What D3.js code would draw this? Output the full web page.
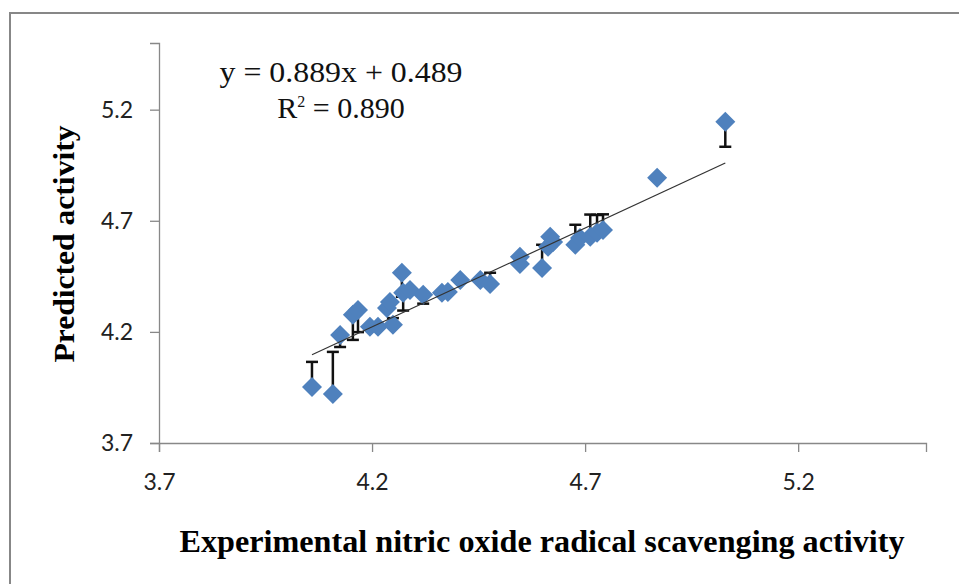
<!DOCTYPE html>
<html>
<head>
<meta charset="utf-8">
<script src="https://cdn.jsdelivr.net/npm/d3@7"></script>
<style>
  body { margin: 0; background: #fff; }
  svg { display: block; }
</style>
</head>
<body>
<svg id="chart"></svg>
<script>
// experimental vs predicted activity
const expValues = [4.059, 4.108, 4.125, 4.155, 4.167, 4.195, 4.214, 4.235, 4.242, 4.249,
  4.270, 4.273, 4.289, 4.320, 4.364, 4.378, 4.407, 4.454, 4.477, 4.547,
  4.547, 4.599, 4.613, 4.618, 4.625, 4.677, 4.688, 4.712, 4.728, 4.742,
  4.869, 5.029];
const predValues = [3.952, 3.921, 4.186, 4.277, 4.299, 4.223, 4.223, 4.308, 4.335, 4.232,
  4.466, 4.376, 4.389, 4.367, 4.376, 4.380, 4.434, 4.434, 4.416, 4.538,
  4.506, 4.488, 4.583, 4.628, 4.605, 4.592, 4.623, 4.628, 4.646, 4.659,
  4.894, 5.146];
// signed error bar lengths (+ up, - down)
const errValues = [0.113, 0.189, -0.054, -0.113, -0.1, 0, 0, 0, 0, 0.03,
  -0.108, -0.08, 0, -0.04, 0, 0, 0, 0, 0.05, 0,
  0, 0.104, 0, 0, 0, 0.09, 0, 0.1, 0.08, 0.07,
  0, -0.113];
const xTicks = [3.7, 4.2, 4.7, 5.2];
const yTicks = [3.7, 4.2, 4.7, 5.2];
const slope = 0.889, intercept = 0.489;
const eqLabel = "y = 0.889x + 0.489";
const r2Value = "0.890";

const W = 959, H = 584;
const svg = d3.select("#chart").attr("width", W).attr("height", H);

// outer frame (cut off at right and bottom)
svg.append("rect")
  .attr("x", 10).attr("y", 13)
  .attr("width", 1000).attr("height", 1000)
  .attr("fill", "none").attr("stroke", "#878787").attr("stroke-width", 2);

const x = d3.scaleLinear().domain([3.7, 5.5]).range([159, 926]);
const y = d3.scaleLinear().domain([3.7, 5.5]).range([443, 43]);

const xAxis = svg.append("g")
  .attr("transform", "translate(0,443)")
  .call(d3.axisBottom(x).tickValues(xTicks).tickFormat(d3.format(".1f")).tickSize(9).tickPadding(22));
const yAxis = svg.append("g")
  .attr("transform", "translate(159,0)")
  .call(d3.axisLeft(y).tickValues(yTicks).tickFormat(d3.format(".1f")).tickSize(9).tickPadding(17));

[xAxis, yAxis].forEach(g => {
  g.select(".domain").attr("stroke", "#888").attr("stroke-width", 1.3);
  g.selectAll(".tick line").attr("stroke", "#888").attr("stroke-width", 1.3);
  g.selectAll(".tick text")
    .attr("fill", "#222")
    .style("font-family", "Lato, 'Open Sans', sans-serif")
    .style("font-size", "23px");
});

const pts = expValues.map((v, i) => ({ x: v, y: predValues[i], e: errValues[i] }));

// error bars
const eb = svg.append("g").attr("stroke", "#111").attr("stroke-width", 2.5);
pts.filter(d => d.e !== 0).forEach(d => {
  const x0 = x(d.x), y0 = y(d.y), y1 = y(d.y + d.e);
  eb.append("line").attr("x1", x0).attr("x2", x0).attr("y1", y0).attr("y2", y1);
  eb.append("line").attr("x1", x0 - 6).attr("x2", x0 + 6).attr("y1", y1).attr("y2", y1);
});

// diamond markers
svg.append("g").selectAll("path")
  .data(pts)
  .join("path")
  .attr("d", d3.symbol(d3.symbolSquare, 200))
  .attr("transform", d => `translate(${x(d.x)},${y(d.y)}) rotate(45)`)
  .attr("fill", "#4f81bd");

// linear trendline
const xMin = d3.min(expValues), xMax = d3.max(expValues);
svg.append("line")
  .attr("x1", x(xMin)).attr("y1", y(slope * xMin + intercept))
  .attr("x2", x(xMax)).attr("y2", y(slope * xMax + intercept))
  .attr("stroke", "#333").attr("stroke-width", 1.2);

// equation
const serif = "'Liberation Serif', 'Times New Roman', serif";
svg.append("text")
  .attr("x", 341).attr("y", 82)
  .attr("text-anchor", "middle")
  .attr("textLength", 243).attr("lengthAdjust", "spacingAndGlyphs")
  .style("font-family", serif).style("font-size", "29px").attr("fill", "#111")
  .text(eqLabel);
const r2 = svg.append("text")
  .attr("x", 341).attr("y", 118)
  .attr("text-anchor", "middle")
  .style("font-family", serif).style("font-size", "30px").attr("fill", "#111");
r2.append("tspan").text("R");
r2.append("tspan").attr("dy", -11).style("font-size", "16px").text("2");
r2.append("tspan").attr("dy", 11).text(" = " + r2Value);

// axis titles
svg.append("text")
  .attr("transform", "translate(74,244) rotate(-90)")
  .attr("text-anchor", "middle")
  .attr("textLength", 237).attr("lengthAdjust", "spacingAndGlyphs")
  .style("font-family", serif).style("font-size", "30px").style("font-weight", "bold")
  .attr("fill", "#000")
  .text("Predicted activity");

svg.append("text")
  .attr("x", 542).attr("y", 552)
  .attr("text-anchor", "middle")
  .attr("textLength", 725).attr("lengthAdjust", "spacingAndGlyphs")
  .style("font-family", serif).style("font-size", "32px").style("font-weight", "bold")
  .attr("fill", "#000")
  .text("Experimental  nitric oxide radical scavenging activity");
</script>
</body>
</html>
